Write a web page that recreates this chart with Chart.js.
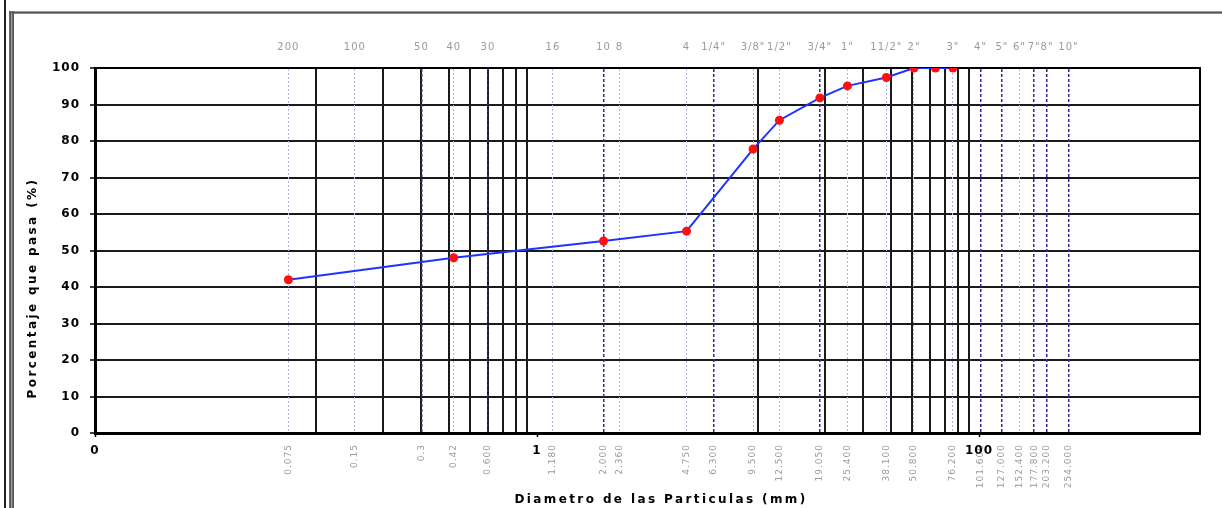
<!DOCTYPE html>
<html>
<head>
<meta charset="utf-8">
<title>Curva granulométrica</title>
<script src="https://cdn.jsdelivr.net/npm/chart.js@4.4.1/dist/chart.umd.min.js"></script>
<style>
  html, body { margin: 0; padding: 0; background: #fff; overflow: hidden; }
  canvas { display: block; }
</style>
</head>
<body>
<canvas id="curva" width="1222" height="508"></canvas>
<script>
// Sieve series: names (top axis), opening sizes in mm, and the printed size labels (bottom axis)
const sieveNames = ['200', '100', '50', '40', '30', '16', '10', '8', '4', '1/4"', '3/8"', '1/2"', '3/4"', '1"', '11/2"', '2"', '3"', '4"', '5"', '6"', '7"', '8"', '10"'];
const sieveSizes = [0.075, 0.15, 0.3, 0.42, 0.6, 1.18, 2.0, 2.36, 4.75, 6.3, 9.5, 12.5, 19.05, 25.4, 38.1, 50.8, 76.2, 101.6, 127, 152.4, 177.8, 203.2, 254];
const sizeLabels = ['0.075', '0.15', '0.3', '0.42', '0.600', '1.180', '2.000', '2.360', '4.750', '6.300', '9.500', '12.500', '19.050', '25.400', '38.100', '50.800', '76.200', '101.600', '127.000', '152.400', '177.800', '203.200', '254.000'];

// Test results: particle diameter (mm) and percent passing
const grainSizes = [0.075, 0.42, 2.0, 4.75, 9.5, 12.5, 19.05, 25.4, 38.1, 50.8, 63.5, 76.2];
const percentPassing = [42, 48, 52.6, 55.3, 77.8, 85.7, 91.8, 95.1, 97.4, 100, 100, 100];

// Main log-axis ticks and their labels
const axisTicks = [0.01, 1, 100];
const axisTickLabels = ['0', '1', '100'];

// Secondary log gridlines
const minorLines = [0.1, 0.2, 0.3, 0.4, 0.5, 0.6, 0.7, 0.8, 0.9, 10, 20, 30, 40, 50, 60, 70, 80, 90];

// Sieves drawn with the heavier dashed line
const strongSieves = new Set([0.3, 0.6, 2.0, 6.3, 19.05, 101.6, 127, 177.8, 203.2, 254]);

const FONT = "'DejaVu Sans', 'Liberation Sans', Arial, sans-serif";
const X_MIN = 0.01, X_MAX = 1000;

const isStrong = (c) => c && c.index !== undefined && strongSieves.has(sieveSizes[c.index]);

const framePlugin = {
  id: 'frame',
  afterLayout(chart) {
    // the size labels share the band below the plot with the main axis labels
    const s = chart.scales.xSize;
    s.bottom = chart.height;
  },
  beforeDraw(chart) {
    const { ctx, width, height } = chart;
    ctx.save();
    ctx.fillStyle = '#fff';
    ctx.fillRect(0, 0, width, height);
    // outer window edge
    ctx.fillStyle = '#222';
    ctx.fillRect(4, 0, 2, height);
    // chart object border
    ctx.fillStyle = '#9a9a9a';
    ctx.fillRect(9, 11, 5, height);
    ctx.fillRect(9, 11, width, 3);
    ctx.fillStyle = '#3c3c3c';
    ctx.fillRect(9.5, 11, 1.2, height);
    ctx.fillRect(12.5, 11, 1.2, height);
    ctx.fillStyle = '#555';
    ctx.fillRect(9, 12, width, 1.2);
    ctx.restore();
    ctx.letterSpacing = '1px';
  },
  afterDraw(chart) {
    const { ctx } = chart;
    ctx.save();
    ctx.letterSpacing = '2.4px';
    ctx.fillStyle = '#000';
    ctx.font = 'bold 12px ' + FONT;
    ctx.textAlign = 'center';
    ctx.textBaseline = 'middle';
    ctx.fillText('Diametro de las Particulas (mm)', 661, 500);
    ctx.translate(33, 288);
    ctx.rotate(-Math.PI / 2);
    ctx.fillText('Porcentaje que pasa (%)', 0, 0);
    ctx.restore();
    ctx.letterSpacing = '0px';
  }
};

new Chart(document.getElementById('curva'), {
  type: 'scatter',
  data: {
    datasets: [{
      data: grainSizes.map((d, i) => ({ x: d, y: percentPassing[i] })),
      showLine: true,
      tension: 0,
      borderColor: '#1f33ff',
      borderWidth: 2,
      pointRadius: 4.5,
      pointHoverRadius: 4.5,
      pointBackgroundColor: '#ff1010',
      pointBorderColor: '#ff1010',
      pointBorderWidth: 0,
      xAxisID: 'x',
      yAxisID: 'y'
    }]
  },
  options: {
    responsive: false,
    devicePixelRatio: 1,
    animation: false,
    events: [],
    layout: { padding: 0 },
    plugins: { legend: { display: false }, tooltip: { enabled: false } },
    scales: {
      y: {
        type: 'linear',
        position: 'left',
        min: 0,
        max: 100,
        ticks: { stepSize: 10, color: '#000', padding: 10, font: { family: FONT, size: 12, weight: 'bold' } },
        grid: { color: '#1a1a1a', lineWidth: 2, drawTicks: true, tickLength: 5, tickColor: '#000', tickWidth: 1.5, z: -3 },
        border: { color: '#000', width: 3 },
        afterFit: (s) => { s.width = 95; }
      },
      y2: {
        type: 'linear',
        position: 'right',
        ticks: { display: false },
        grid: { display: false, drawTicks: false },
        border: { color: '#000', width: 2 },
        afterFit: (s) => { s.width = 22; }
      },
      xSieve: {
        type: 'logarithmic',
        position: 'top',
        min: X_MIN,
        max: X_MAX,
        afterBuildTicks: (s) => { s.ticks = sieveSizes.map((v) => ({ value: v })); },
        ticks: {
          autoSkip: false, minRotation: 0, maxRotation: 0, padding: 15,
          color: '#9a9a9a', font: { family: FONT, size: 10 },
          callback: (v, i) => sieveNames[i]
        },
        grid: {
          drawTicks: false,
          z: -1,
          color: (c) => isStrong(c) ? '#2a2a9e' : '#b4b4ea',
          lineWidth: (c) => isStrong(c) ? 1.5 : 1
        },
        border: { color: '#000', width: 2, dash: (c) => isStrong(c) ? [3, 2] : [2, 2] },
        afterFit: (s) => { s.height = 68; }
      },
      xMinor: {
        type: 'logarithmic',
        position: 'bottom',
        weight: 0,
        min: X_MIN,
        max: X_MAX,
        afterBuildTicks: (s) => { s.ticks = minorLines.map((v) => ({ value: v })); },
        ticks: { display: false, autoSkip: false },
        grid: { color: '#1a1a1a', lineWidth: 2, drawTicks: false, z: -2 },
        border: { display: false },
        afterFit: (s) => { s.height = 0; }
      },
      xSize: {
        type: 'logarithmic',
        position: 'bottom',
        weight: 1,
        min: X_MIN,
        max: X_MAX,
        afterBuildTicks: (s) => { s.ticks = sieveSizes.map((v) => ({ value: v })); },
        ticks: {
          autoSkip: false, minRotation: 90, maxRotation: 90, padding: 11,
          color: '#9a9a9a', font: { family: FONT, size: 9 },
          callback: (v, i) => sizeLabels[i]
        },
        grid: { display: false, drawTicks: false },
        border: { display: false },
        afterFit: (s) => { s.height = 0; }
      },
      x: {
        type: 'logarithmic',
        position: 'bottom',
        weight: 10,
        min: X_MIN,
        max: X_MAX,
        afterBuildTicks: (s) => { s.ticks = axisTicks.map((v) => ({ value: v })); },
        ticks: {
          autoSkip: false, minRotation: 0, maxRotation: 0, padding: 7,
          color: '#000', font: { family: FONT, size: 12, weight: 'bold' },
          callback: (v, i) => axisTickLabels[i]
        },
        grid: { drawOnChartArea: false, drawTicks: true, tickLength: 4, tickColor: '#000', tickWidth: 1.5, z: -1 },
        border: { color: '#000', width: 3 },
        afterFit: (s) => { s.height = 75; }
      }
    }
  },
  plugins: [framePlugin]
});
</script>
</body>
</html>
